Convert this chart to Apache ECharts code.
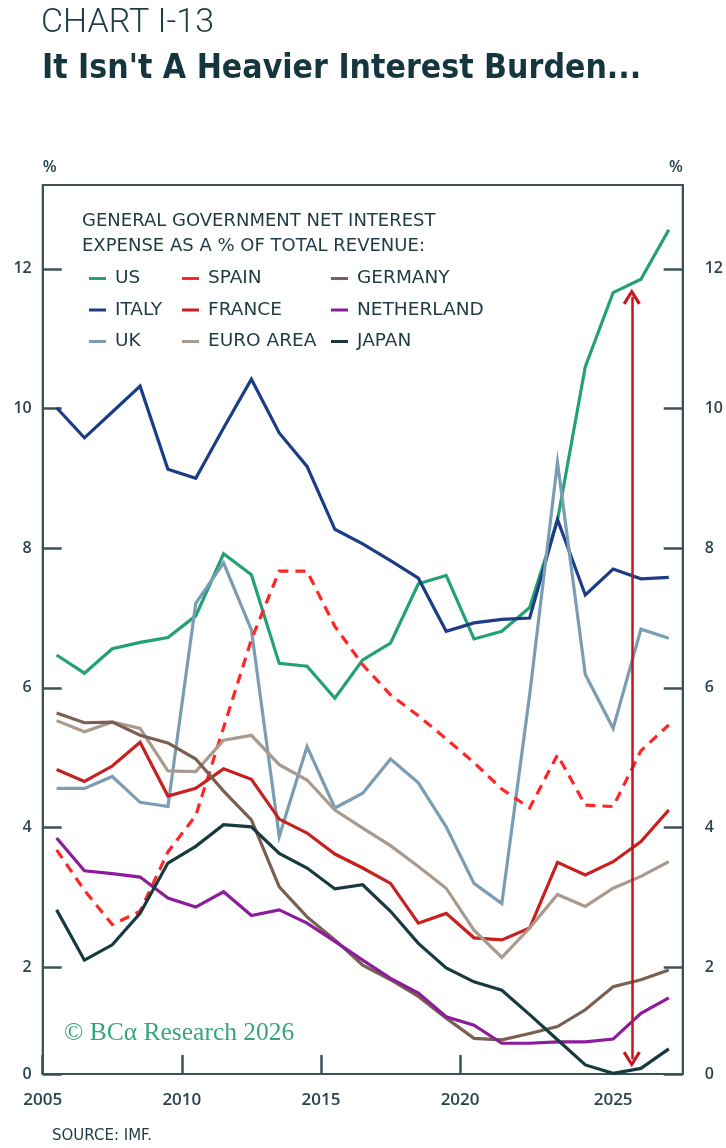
<!DOCTYPE html>
<html>
<head>
<meta charset="utf-8">
<script src="https://cdn.jsdelivr.net/npm/echarts@6/dist/echarts.min.js"></script>
<style>
html,body{margin:0;padding:0;background:#ffffff;}
#chart{width:726px;height:1148px;}
</style>
</head>
<body>
<div id="chart"></div>
<script>
// ---- data ----
const years = [2005,2006,2007,2008,2009,2010,2011,2012,2013,2014,2015,2016,2017,2018,2019,2020,2021,2022,2023,2024,2025,2026,2027];
const us          = [6.47,6.21,6.56,6.65,6.72,7.03,7.92,7.62,6.35,6.31,5.85,6.40,6.64,7.49,7.61,6.70,6.81,7.15,8.40,10.60,11.66,11.85,12.56];
const italy       = [10.01,9.58,9.95,10.32,9.13,9.00,9.72,10.42,9.65,9.17,8.27,8.06,7.82,7.57,6.81,6.93,6.98,7.00,8.41,7.33,7.70,7.56,7.58];
const uk          = [4.56,4.56,4.73,4.36,4.30,7.21,7.79,6.83,3.87,5.16,4.28,4.49,4.98,4.64,4.01,3.20,2.91,5.90,9.23,6.19,5.42,6.84,6.71];
const spain       = [3.68,3.10,2.61,2.80,3.65,4.17,5.43,6.69,7.67,7.67,6.88,6.33,5.90,5.60,5.27,4.93,4.55,4.28,5.04,4.32,4.30,5.10,5.47];
const france      = [4.83,4.66,4.88,5.22,4.45,4.56,4.84,4.69,4.12,3.92,3.62,3.42,3.20,2.63,2.77,2.42,2.39,2.56,3.50,3.32,3.51,3.80,4.25];
const euroArea    = [5.53,5.37,5.51,5.42,4.81,4.80,5.25,5.32,4.90,4.68,4.25,3.99,3.74,3.44,3.13,2.53,2.14,2.56,3.04,2.87,3.13,3.30,3.51];
const germany     = [5.64,5.50,5.51,5.32,5.21,4.98,4.52,4.11,3.15,2.72,2.39,2.03,1.82,1.58,1.27,0.98,0.96,1.05,1.15,1.39,1.72,1.82,1.96];
const netherland  = [3.85,3.38,3.34,3.29,2.99,2.86,3.08,2.74,2.82,2.63,2.37,2.10,1.84,1.63,1.29,1.17,0.91,0.91,0.93,0.93,0.97,1.34,1.56];
const japan       = [2.82,2.10,2.32,2.77,3.49,3.73,4.04,4.01,3.63,3.42,3.12,3.18,2.80,2.34,1.99,1.79,1.67,1.32,0.96,0.60,0.48,0.55,0.83];

const yTicks = [0.47, 2, 4, 6, 8, 10, 12];           // bottom of the axis is labelled "0"
const xTickYears = [2005, 2010, 2015, 2020];
const xLabelYears = [2005, 2010, 2015, 2020, 2025.5];
const arrowYear = 2026.17;
const arrowSpan = [0.68, 11.6];

// ---- styling ----
const axisColor = '#3b525b';
const textColor = '#1f3a42';
const legendFont = "'DejaVu Sans', 'Open Sans', sans-serif";
const seriesDefs = [
  {name:'US',         values:us,         color:'#22a174'},
  {name:'ITALY',      values:italy,      color:'#1c3d85'},
  {name:'UK',         values:uk,         color:'#7b9db3'},
  {name:'SPAIN',      values:spain,      color:'#ff2626', dashed:true},
  {name:'FRANCE',     values:france,     color:'#c81f1f'},
  {name:'EURO AREA',  values:euroArea,   color:'#a99a8d'},
  {name:'GERMANY',    values:germany,    color:'#7b604f'},
  {name:'NETHERLAND', values:netherland, color:'#8b1c9c'},
  {name:'JAPAN',      values:japan,      color:'#173a40'}
];

const chevron = 'path://M6,0 L12,10.5 L10.2,11.8 L6,4.2 L1.8,11.8 L0,10.5 Z';

const series = seriesDefs.map((d, idx) => {
  const s = {
    name: d.name,
    type: 'line',
    data: years.map((y, i) => [y + 0.5, d.values[i]]),
    showSymbol: false,
    symbol: 'none',
    color: d.color,
    lineStyle: {color: d.color, width: 3.2, type: d.dashed ? [10, 7] : 'solid', join: 'miter'},
    emphasis: {disabled: true},
    z: 3
  };
  if (idx === 0) {
    s.markLine = {
      silent: true,
      symbol: [chevron, chevron],
      symbolSize: [18, 16],
      label: {show: false},
      lineStyle: {color: '#c4161c', width: 2.5, type: 'solid'},
      data: [[{coord: [arrowYear, arrowSpan[0]]}, {coord: [arrowYear, arrowSpan[1]]}]],
      animation: false
    };
  }
  return s;
});

const legendCommon = {
  orient: 'vertical',
  icon: 'rect',
  itemWidth: 17,
  itemHeight: 3,
  itemGap: 12.5,
  selectedMode: false,
  textStyle: {fontFamily: legendFont, fontSize: 18.5, lineHeight: 18, color: textColor, padding: [0, 0, 0, 4]}
};

const yAxisCommon = {
  type: 'value',
  min: 0.47,
  max: 13.2,
  splitLine: {show: false},
  axisLine: {show: true, lineStyle: {color: axisColor, width: 2}},
  axisTick: {show: true, inside: true, length: 19, customValues: yTicks, lineStyle: {color: axisColor, width: 2.5}},
  nameLocation: 'end',
  nameGap: 10,
  name: '%'
};

const chart = echarts.init(document.getElementById('chart'), null, {renderer: 'canvas'});
chart.setOption({
  animation: false,
  backgroundColor: '#ffffff',
  title: [
    {text: 'CHART I-13', left: 36, top: 1,
     textStyle: {fontFamily: 'Roboto', fontWeight: 300, fontSize: 34, color: '#1d3c44'}},
    {text: "It Isn't A Heavier Interest Burden...", left: 37, top: 47,
     textStyle: {fontFamily: "'Liberation Sans Narrow', 'DejaVu Sans Condensed', Roboto", fontWeight: 'bold', fontSize: 33.5, color: '#15363e'}},
    {text: 'GENERAL GOVERNMENT NET INTEREST\nEXPENSE AS A % OF TOTAL REVENUE:', left: 77, top: 204,
     textStyle: {fontFamily: legendFont, fontWeight: 'normal', fontSize: 18, lineHeight: 25, color: textColor}},
    {text: 'SOURCE: IMF.', left: 47, top: 1124,
     textStyle: {fontFamily: legendFont, fontWeight: 'normal', fontSize: 15, color: textColor}}
  ],
  legend: [
    Object.assign({data: ['US', 'ITALY', 'UK'], left: 84, top: 264}, legendCommon),
    Object.assign({data: ['SPAIN', 'FRANCE', 'EURO AREA'], left: 177, top: 264}, legendCommon),
    Object.assign({data: ['GERMANY', 'NETHERLAND', 'JAPAN'], left: 326, top: 264}, legendCommon)
  ],
  grid: {left: 42.7, right: 43.3, top: 185, bottom: 74, show: true, borderColor: axisColor, borderWidth: 2, backgroundColor: 'transparent'},
  xAxis: {
    type: 'value',
    min: 2005,
    max: 2028,
    splitLine: {show: false},
    axisLine: {show: true, lineStyle: {color: axisColor, width: 2}},
    axisTick: {show: true, inside: true, length: 19, customValues: xTickYears, lineStyle: {color: axisColor, width: 2.5}},
    axisLabel: {customValues: xLabelYears, formatter: v => String(Math.floor(v)), margin: 18,
                fontFamily: 'Open Sans', fontWeight: 600, fontSize: 17, color: '#2a434d'}
  },
  yAxis: [
    Object.assign({}, yAxisCommon, {
      position: 'left',
      axisLabel: {customValues: yTicks, formatter: v => v < 1 ? '0' : String(v), margin: 11,
                  fontFamily: 'Open Sans', fontWeight: 600, fontSize: 16, color: '#2a434d'},
      nameTextStyle: {align: 'left', fontFamily: 'Open Sans', fontWeight: 600, fontSize: 16, color: '#2a434d'}
    }),
    Object.assign({}, yAxisCommon, {
      position: 'right',
      axisLabel: {customValues: yTicks, formatter: v => v < 1 ? '0' : String(v), margin: 22,
                  fontFamily: 'Open Sans', fontWeight: 600, fontSize: 16, color: '#2a434d'},
      nameTextStyle: {align: 'right', fontFamily: 'Open Sans', fontWeight: 600, fontSize: 16, color: '#2a434d'}
    })
  ],
  graphic: [
    {type: 'text', left: 64, top: 1020, silent: true,
     style: {text: '© BCα Research 2026', fontFamily: "'Liberation Serif', 'DejaVu Serif', serif", fontSize: 25.5, fill: '#35a57c'}}
  ],
  series: series
});
</script>
</body>
</html>
